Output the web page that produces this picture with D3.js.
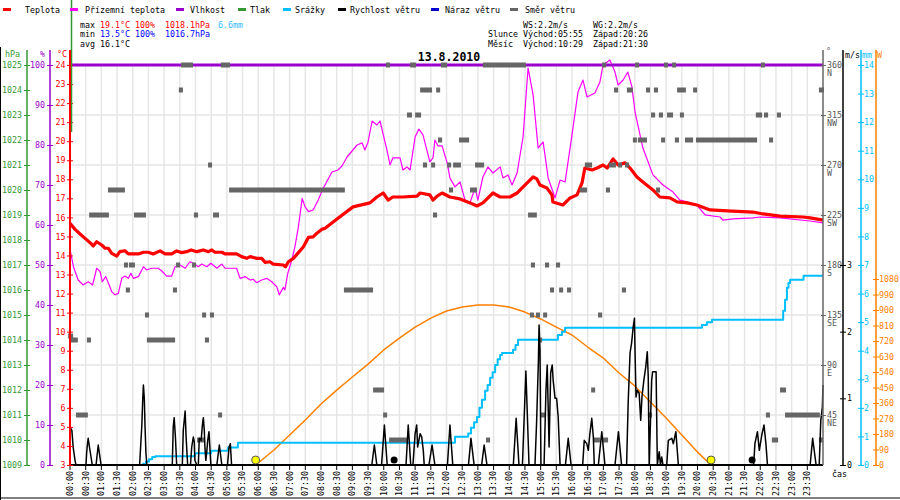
<!DOCTYPE html>
<html>
<head>
<meta charset="utf-8">
<script src="https://cdn.jsdelivr.net/npm/d3@7"></script>
<style>
body { margin: 0; background: #fff; }
svg text { font-family: "DejaVu Sans Mono", monospace; font-size: 8.3px; }
</style>
</head>
<body>
<svg id="chart" width="900" height="500"></svg>
<script>
// time of day in hours
var tempT = [0, 0.16, 0.32, 0.48, 0.64, 0.74, 0.85, 1.01, 1.12, 1.22, 1.33, 1.49, 1.59, 1.75, 1.86, 2.18, 2.34, 2.50, 2.65, 2.87,
    3.03, 3.24, 3.40, 3.56, 3.72, 3.86, 4.04, 4.25, 4.41, 4.52, 4.62, 4.84, 4.94, 5.31, 5.47, 5.63, 5.74, 5.95, 6.11, 6.22,
    6.37, 6.48, 6.80, 6.87, 6.96, 7.12, 7.28, 7.44, 7.60, 7.75, 7.86, 8.02, 8.13, 8.51, 9.02, 9.56, 9.78, 9.98, 10.14, 10.29,
    10.61, 11.06, 11.16, 11.47, 11.57, 11.70, 11.86, 12.11, 12.43, 12.75, 12.97, 13.16, 13.48, 13.71, 14.02, 14.25, 14.57, 14.76, 14.88, 14.98,
    15.20, 15.36, 15.39, 15.71, 15.94, 16.16, 16.32, 16.41, 16.64, 16.80, 16.99, 17.12, 17.31, 17.47, 17.69, 17.85, 18.07, 18.26, 18.58, 18.80,
    19.12, 19.35, 19.67, 19.98, 20.40, 20.94, 21.77, 22.09, 22.63, 23.36, 23.59, 24];
var tempV = [15.69, 15.37, 15.13, 14.90, 14.67, 14.50, 14.72, 14.55, 14.38, 14.38, 14.11, 13.97, 14.20, 14.25, 14.08, 14.08, 14.17, 14.17, 14.08, 14.24,
    14.08, 14.08, 14.24, 14.15, 14.20, 14.29, 14.20, 14.29, 14.20, 14.29, 14.17, 14.17, 14.08, 14.08, 13.94, 13.85, 13.94, 13.85, 13.85, 13.64,
    13.67, 13.55, 13.50, 13.41, 13.67, 13.85, 14.15, 14.46, 14.95, 14.98, 15.16, 15.37, 15.43, 15.92, 16.55, 16.76, 17.07, 17.28, 16.91, 17.07,
    17.07, 17.12, 17.28, 17.18, 16.91, 17.12, 17.28, 17.07, 16.97, 16.76, 16.60, 16.76, 17.28, 17.07, 17.07, 17.28, 17.81, 18.12, 18.02, 17.70,
    17.54, 17.18, 16.81, 16.65, 17.02, 17.18, 17.81, 18.59, 18.49, 18.59, 18.75, 18.59, 19.07, 18.75, 18.86, 18.59, 18.12, 17.86, 17.44, 17.07,
    17.02, 16.81, 16.76, 16.65, 16.39, 16.34, 16.28, 16.18, 16.07, 16.02, 15.97, 15.86];

var groundT = [0, 0.11, 0.26, 0.42, 0.58, 0.72, 0.85, 0.96, 1.03, 1.14, 1.22, 1.33, 1.43, 1.54, 1.65, 1.75, 1.86, 1.94, 2.02, 2.18,
    2.34, 2.44, 2.60, 2.81, 2.92, 3.08, 3.24, 3.35, 3.51, 3.67, 3.82, 3.93, 4.09, 4.20, 4.36, 4.49, 4.68, 4.84, 4.94, 5.31,
    5.42, 5.58, 5.74, 5.84, 5.95, 6.11, 6.27, 6.43, 6.59, 6.67, 6.80, 6.85, 6.94, 7.07, 7.17, 7.28, 7.40, 7.49, 7.60, 7.75,
    7.91, 8.07, 8.35, 8.54, 8.67, 8.83, 9.15, 9.31, 9.40, 9.50, 9.63, 9.78, 9.88, 10.10, 10.20, 10.29, 10.52, 10.61, 10.74, 10.84,
    11.00, 11.12, 11.25, 11.47, 11.57, 11.63, 11.73, 11.86, 12.02, 12.11, 12.27, 12.43, 12.59, 12.75, 12.91, 13.00, 13.16, 13.32, 13.48, 13.71,
    13.80, 13.96, 14.09, 14.25, 14.44, 14.60, 14.76, 14.92, 15.08, 15.24, 15.46, 15.62, 15.78, 16.00, 16.19, 16.35, 16.48, 16.73, 16.89, 16.99,
    17.21, 17.37, 17.47, 17.63, 17.78, 17.91, 18.01, 18.26, 18.58, 18.90, 19.22, 19.44, 19.67, 19.98, 20.24, 20.72, 20.81, 21.13, 21.77, 21.99,
    22.63, 23.59, 24];
var groundV = [14.32, 13.41, 12.71, 12.45, 12.62, 12.45, 13.33, 13.15, 12.62, 12.89, 12.57, 12.10, 11.93, 12.01, 12.80, 12.92, 12.80, 13.06, 12.80, 12.89,
    13.41, 13.24, 13.33, 13.33, 13.20, 12.92, 12.92, 13.41, 13.50, 13.33, 13.67, 13.59, 13.41, 13.55, 13.41, 13.59, 13.33, 13.55, 13.33, 13.33,
    12.80, 12.89, 12.71, 12.75, 12.57, 12.71, 12.80, 12.62, 12.36, 11.93, 12.33, 12.19, 13.06, 13.76, 14.46, 15.51, 17.00, 16.56, 16.30, 16.39,
    16.91, 17.53, 18.38, 18.49, 18.70, 19.17, 19.80, 19.91, 19.54, 19.96, 21.06, 20.85, 21.06, 19.54, 18.75, 19.12, 19.12, 18.49, 18.65, 18.49,
    20.22, 20.64, 20.33, 18.91, 19.12, 20.06, 19.75, 19.75, 18.86, 18.07, 17.60, 17.86, 16.91, 16.76, 17.54, 16.91, 18.12, 18.65, 18.33, 18.65,
    18.07, 18.23, 17.70, 18.33, 20.22, 23.84, 22.43, 19.64, 19.96, 18.07, 17.02, 17.96, 17.86, 20.33, 22.58, 23.21, 22.32, 22.53, 23.11, 24.00,
    24.26, 23.63, 22.95, 23.21, 23.63, 22.85, 21.53, 19.64, 18.23, 17.70, 17.33, 16.91, 16.81, 16.65, 16.13, 16.02, 15.86, 15.92, 15.97, 16.02,
    15.97, 15.81, 15.71];

var humT = [0, 24];
var humV = [100, 100];

// cumulative rain, mm
var rainT = [0, 2.33, 2.42, 2.52, 2.62, 2.72, 3.98, 4.50, 5.04, 5.35, 12.27, 12.69, 12.78, 12.88, 12.97, 13.05, 13.13, 13.23, 13.31, 13.39,
    13.47, 13.55, 13.63, 13.71, 13.77, 14.12, 14.20, 14.28, 15.55, 15.68, 15.78, 20.14, 20.30, 20.46, 22.73, 22.79, 22.85, 22.90, 22.95, 23.38, 24];
var rainV = [0, 0.04, 0.12, 0.20, 0.28, 0.31, 0.41, 0.50, 0.61, 0.78, 0.99, 1.10, 1.30, 1.50, 1.68, 2.00, 2.28, 2.60, 2.80, 3.05,
    3.25, 3.50, 3.70, 3.85, 3.92, 4.03, 4.20, 4.38, 4.55, 4.66, 4.80, 4.90, 5.00, 5.08, 5.40, 5.78, 6.20, 6.37, 6.48, 6.62, 6.62];

// wind speed, m/s
var windT = [0, 0.06, 0.10, 0.16, 0.19, 0.51, 0.53, 0.56, 0.58, 0.62, 0.66, 0.71, 0.83, 0.90, 0.99,
    2.22, 2.24, 2.29, 2.32, 2.34, 2.37, 2.39, 2.42, 2.45, 3.26, 3.29, 3.32, 3.36, 3.40, 3.58, 3.61, 3.67, 3.70, 3.75,
    3.84, 3.88, 3.93, 3.96, 3.98, 4.04, 4.09, 4.12, 4.18, 4.22, 4.25, 4.28, 4.30, 4.33, 4.36, 4.39, 4.43, 4.46, 4.49,
    4.68, 4.76, 4.84, 5.02, 5.07, 5.11, 5.15, 9.62, 9.70, 9.78, 9.93, 10.02, 10.11, 10.71, 10.78, 10.86,
    10.93, 11.00, 11.05, 11.08, 11.16, 11.21, 11.26, 11.29, 11.44, 11.54, 11.63, 12.03, 12.11, 12.20, 12.70, 12.78, 12.88,
    13.12, 13.20, 13.29, 14.13, 14.22, 14.31, 14.42, 14.53, 14.63, 14.82, 14.87, 14.93, 14.95, 14.98, 15.01,
    15.11, 15.17, 15.21, 15.27, 15.32, 15.37, 15.40, 15.46, 15.51, 15.56, 15.62, 15.79, 15.88, 15.97,
    16.34, 16.39, 16.47, 16.52, 16.57, 16.63, 16.68, 16.71, 16.84, 16.95, 17.05, 17.37, 17.48, 17.58,
    17.74, 17.79, 17.85, 17.90, 17.95, 17.99, 18.01, 18.04, 18.08, 18.14, 18.19, 18.23, 18.29, 18.35, 18.40, 18.43, 18.46,
    18.54, 18.57, 18.68, 18.72, 18.78, 18.82, 18.86, 18.90, 19.02, 19.07, 19.18, 19.23, 19.31, 19.39,
    21.79, 21.83, 21.91, 21.97, 22.05, 22.12, 22.18, 22.23, 23.59, 23.67, 23.78, 23.88, 23.93, 23.98, 24];
var windV = [0.57, 0.52, 0.27, 0.07, 0, 0, 0.18, 0.33, 0.40, 0.27, 0.15, 0, 0, 0.30, 0,
    0, 0.18, 0.60, 1.00, 1.20, 0.98, 0.60, 0.18, 0, 0, 0.57, 0.71, 0.42, 0, 0, 0.52, 0.81, 0.42, 0,
    0, 0.27, 0.42, 0.35, 0.07, 0, 0, 0.40, 0.37, 0.60, 0.71, 0.52, 0.27, 0.07, 0.20, 0.37, 0.50, 0.25, 0,
    0, 0.30, 0, 0, 0.27, 0.32, 0, 0, 0.30, 0, 0, 0.60, 0, 0, 0.60, 0,
    0, 0.47, 0.60, 0.27, 0.47, 0.42, 0.22, 0, 0, 0.30, 0, 0, 0.60, 0, 0, 0.40, 0,
    0, 0.30, 0, 0, 0.70, 0, 0, 1.41, 0, 0, 0.62, 1.57, 2.10, 1.72, 0,
    0, 1.12, 1.50, 0.27, 1.38, 1.50, 1.27, 1.00, 1.00, 0.72, 0, 0, 0.40, 0,
    0, 0.37, 0.32, 0.22, 0.47, 0.70, 0.42, 0, 0, 0.50, 0, 0, 0.50, 0,
    0, 0.93, 1.68, 1.83, 2.07, 2.20, 1.68, 1.02, 1.12, 1.08, 0.67, 1.02, 1.27, 1.47, 1.70, 1.32, 0,
    1.27, 1.40, 1.40, 0, 0.20, 0, 0.12, 0, 0, 0.37, 0.40, 0.32, 0.50, 0,
    0, 0.32, 0.50, 0.22, 0.45, 0.60, 0.32, 0, 0, 0.40, 0, 0, 0.67, 0.87, 1.20];

// wind direction runs: from, to (hours), degrees
var dirFrom = [-0.06, 0.03, 0.19, 0.54, 0.61, 1.21, 1.72, 1.88, 1.78, 2.04, 2.39, 2.45, 3.28, 3.38, 3.47, 3.54, 3.89, 3.95, 4.05, 4.21,
    4.30, 4.40, 4.46, 4.56, 4.72, 4.81, 5.07, 8.73, 9.66, 9.98, 10.07, 10.17, 10.74, 10.84, 11.00, 11.16, 11.25, 11.51, 11.57, 11.67,
    11.73, 11.82, 12.02, 12.08, 12.21, 12.40, 12.75, 12.91, 13.16, 13.26, 14.60, 14.66, 14.69, 14.85, 14.92, 15.01, 15.08, 15.14, 15.30, 15.49,
    15.59, 15.84, 16.25, 16.41, 16.61, 16.67, 16.83, 16.96, 16.99, 17.08, 17.18, 17.34, 17.47, 17.59, 17.69, 17.75, 17.94, 18.01, 18.10, 18.36,
    18.42, 18.52, 18.61, 18.68, 18.77, 18.84, 18.93, 19.03, 19.19, 19.28, 19.35, 19.44, 19.60, 19.86, 19.95, 21.86, 22.02, 22.12, 22.18, 22.28,
    22.37, 22.53, 22.63, 22.79, 23.87, 23.87];
var dirTo = [0.10, 0.25, 0.57, 0.67, 1.24, 1.75, 1.85, 2.07, 1.91, 2.42, 2.49, 3.35, 3.41, 3.51, 3.60, 3.92, 3.98, 4.08, 4.27, 4.33,
    4.43, 4.49, 4.59, 4.75, 4.84, 5.10, 8.76, 9.66, 10.01, 10.10, 10.17, 10.74, 10.90, 11.03, 11.19, 11.54, 11.38, 11.63, 11.70, 11.79,
    11.86, 12.02, 12.11, 12.21, 12.46, 12.72, 12.97, 13.20, 14.53, 13.39, 14.88, 14.76, 14.82, 14.98, 15.04, 15.14, 15.20, 15.27, 15.39, 15.62,
    15.71, 15.97, 16.48, 16.64, 16.73, 16.89, 16.96, 17.05, 17.15, 17.21, 17.40, 17.47, 17.59, 17.72, 17.82, 17.94, 18.04, 18.10, 18.39, 18.45,
    18.55, 18.65, 18.74, 18.80, 18.90, 18.96, 19.03, 19.22, 19.28, 19.41, 19.63, 19.54, 19.86, 19.98, 21.90, 22.06, 22.12, 22.25, 22.31, 22.41,
    22.57, 22.66, 22.82, 23.90, 24.00, 24.03];
var dirDeg = [116, 112.5, 45, 112.5, 225, 247.5, 180, 180, 157.5, 225, 135, 112.5, 157.5, 180, 337.5, 360, 180, 225, 22.5, 135,
    112.5, 270, 135, 225, 45, 360, 247.5, 157.5, 67.5, 45, 360, 22.5, 315, 360, 315, 337.5, 270, 270, 225, 337.5,
    292.5, 360, 270, 247.5, 270, 292.5, 247.5, 270, 360, 22.5, 225, 135, 180, 135, 112.5, 45, 135, 180, 157.5, 180,
    157.5, 157.5, 247.5, 270, 67.5, 22.5, 135, 360, 22.5, 247.5, 270, 337.5, 270, 157.5, 270, 337.5, 292.5, 360, 292.5, 337.5,
    45, 315, 337.5, 247.5, 315, 292.5, 360, 315, 360, 292.5, 337.5, 315, 292.5, 337.5, 292.5, 315, 360, 315, 45, 292.5,
    22.5, 315, 67.5, 45, 22.5, 337.5];

// theoretical sun radiation, W
var sunT = [5.917, 6.5, 7, 7.5, 8, 8.5, 9, 9.5, 10, 10.5, 11, 11.5, 12, 12.5, 13, 13.5, 14, 14.5, 15, 15.5,
    16, 16.5, 17, 17.5, 18, 18.5, 19, 19.5, 20, 20.433];
var sunW = [0, 87, 174, 261, 354, 435, 511, 586, 668, 737, 801, 853, 894, 917, 929, 929, 917, 888, 848, 801,
    755, 685, 621, 534, 459, 366, 273, 174, 75, 0];

var sunEvents = [5.917, 20.433];
var moonEvents = [10.33, 21.74];

var timeLabels = ["00:00", "00:30", "01:00", "01:30", "02:00", "02:30", "03:00", "03:30", "04:00", "04:30", "05:00", "05:30",
    "06:00", "06:30", "07:00", "07:30", "08:00", "08:30", "09:00", "09:30", "10:00", "10:30", "11:00", "11:30",
    "12:00", "12:30", "13:00", "13:30", "14:00", "14:30", "15:00", "15:30", "16:00", "16:30", "17:00", "17:30",
    "18:00", "18:30", "19:00", "19:30", "20:00", "20:30", "21:00", "21:30", "22:00", "22:30", "23:00", "23:30"];
var tempTicks = d3.range(3, 25);
var humTicks = [0, 10, 20, 30, 40, 50, 60, 70, 80, 90, 100];
var presTicks = d3.range(1009, 1026);
var dirTicks = [45, 90, 135, 180, 225, 270, 315, 360];
var dirNames = ["NE", "E", "SE", "S", "SW", "W", "NW", "N"];
var windTicks = [0, 1, 2, 3];
var rainTicks = d3.range(0, 15);
var sunTicks = [0, 90, 180, 270, 360, 450, 540, 630, 720, 810, 900, 990, 1080];

var legendNames = ["Teplota", "Přízemní teplota", "Vlhkost", "Tlak", "Srážky", "Rychlost větru", "Náraz větru", "Směr větru"];
var legendColors = ["#ff0000", "#ff00ff", "#9900cc", "#339933", "#00bfff", "#000000", "#0000cc", "#666666"];

var svg = d3.select("#chart");
var plotL = 70, plotR = 823, plotT = 65, plotB = 465;

var x = d3.scaleLinear().domain([0, 24]).range([plotL, plotR]);
var yTemp = d3.scaleLinear().domain([3, 24]).range([plotB, plotT]);
var yHum = d3.scaleLinear().domain([0, 100]).range([plotB, plotT]);
var yPres = d3.scaleLinear().domain([1009, 1025]).range([plotB, plotT]);
var yDir = d3.scaleLinear().domain([0, 360]).range([plotB, plotT]);
var yWind = d3.scaleLinear().domain([0, 6]).range([plotB, plotT]);
var yRain = d3.scaleLinear().domain([0, 14]).range([plotB, plotT]);
var ySun = d3.scaleLinear().domain([0, 1080]).range([plotB, 279]);

function hours(s) {
    var p = s.split(":");
    return +p[0] + p[1] / 60;
}

// grid
var grid = svg.append("g").attr("stroke", "#e6e6e6").attr("stroke-width", 1.5);
grid.selectAll(".vg").data(timeLabels).enter().append("line")
    .attr("x1", function(d) { return x(hours(d)); })
    .attr("x2", function(d) { return x(hours(d)); })
    .attr("y1", plotT).attr("y2", plotB);
grid.selectAll(".hg").data(dirTicks).enter().append("line")
    .attr("x1", plotL).attr("x2", plotR)
    .attr("y1", function(d) { return yDir(d); })
    .attr("y2", function(d) { return yDir(d); });

function series(ts, vs, yScale, color, width, curve) {
    var l = d3.line()
        .x(function(d) { return x(d[0]); })
        .y(function(d) { return yScale(d[1]); })
        .curve(curve || d3.curveLinear);
    svg.append("path")
        .attr("d", l(d3.zip(ts, vs)))
        .attr("fill", "none")
        .attr("stroke", color)
        .attr("stroke-width", width)
        .attr("stroke-linejoin", "round");
}

series(sunT, sunW, ySun, "#ff8000", 1.5);
series(rainT, rainV, yRain, "#00bfff", 2, d3.curveStepAfter);
series(groundT, groundV, yTemp, "#ff00ff", 1.2);
series(tempT, tempV, yTemp, "#ff0000", 3.2);
series(humT, humV, yHum, "#9900cc", 3);

// wind direction squares
svg.append("g").selectAll("rect")
    .data(dirDeg).enter().append("rect")
    .attr("x", function(d, i) { return x(dirFrom[i]); })
    .attr("width", function(d, i) { return Math.max(4, x(dirTo[i]) - x(dirFrom[i])); })
    .attr("y", function(d) { return yDir(d) - 2.5; })
    .attr("height", 5)
    .attr("fill", "#666666");

// baseline + wind speed
svg.append("line").attr("x1", plotL).attr("x2", plotR).attr("y1", plotB).attr("y2", plotB)
    .attr("stroke", "#000").attr("stroke-width", 2);
series(windT, windV, yWind, "#000000", 1.5);

// sun / moon markers
svg.selectAll(".sun").data(sunEvents).enter().append("circle")
    .attr("cx", function(d) { return x(d); })
    .attr("cy", plotB - 5)
    .attr("r", 4)
    .attr("fill", "#ffff00")
    .attr("stroke", "#555")
    .attr("stroke-width", 1);
svg.selectAll(".moon").data(moonEvents).enter().append("circle")
    .attr("cx", function(d) { return x(d); })
    .attr("cy", plotB - 5)
    .attr("r", 3.5)
    .attr("fill", "#000");

// x axis labels
svg.selectAll(".xt").data(timeLabels).enter().append("line")
    .attr("x1", function(d) { return x(hours(d)); })
    .attr("x2", function(d) { return x(hours(d)); })
    .attr("y1", plotB + 1).attr("y2", plotB + 5)
    .attr("stroke", "#000");
svg.selectAll(".xl").data(timeLabels).enter().append("text")
    .attr("transform", function(d) { return "translate(" + x(hours(d)) + ",471) rotate(-90)"; })
    .attr("dy", "0.35em")
    .attr("text-anchor", "end")
    .attr("fill", "#000")
    .text(function(d) { return d; });
svg.append("text").attr("x", 832).attr("y", 477).text("čas");

// vertical axes
function vAxis(xPos, axis, color) {
    var g = svg.append("g").attr("transform", "translate(" + xPos + ",0)").call(axis);
    g.select(".domain").remove();
    g.selectAll(".tick line").attr("stroke", color);
    g.selectAll(".tick text").attr("fill", color);
    svg.append("line").attr("x1", xPos).attr("x2", xPos).attr("y1", 50).attr("y2", plotB)
        .attr("stroke", color).attr("stroke-width", 1.5);
    return g;
}

var fmt = d3.format("d");
var gPres = vAxis(27, d3.axisLeft(yPres).tickValues(presTicks).tickFormat(fmt).tickSize(3).tickPadding(2), "#339933");
gPres.selectAll(".tick line").attr("x1", 3);
var gHum = vAxis(50, d3.axisLeft(yHum).tickValues(humTicks).tickFormat(fmt).tickSize(3).tickPadding(2), "#9900cc");
gHum.selectAll(".tick line").attr("x1", 3);
var gTemp = vAxis(70, d3.axisLeft(yTemp).tickValues(tempTicks).tickFormat(fmt).tickSize(3).tickPadding(1.5), "#ff0000");
gTemp.selectAll(".tick line").attr("x1", 3);

var gDir = vAxis(823, d3.axisRight(yDir).tickValues(dirTicks).tickFormat(fmt).tickSize(3).tickPadding(1), "#666666");
gDir.selectAll(".tick line").attr("x1", -2);
gDir.selectAll(".tick text").attr("fill", "#555");
gDir.selectAll(".tick").append("text")
    .attr("x", 4).attr("dy", "1.32em").attr("fill", "#555")
    .text(function(d, i) { return dirNames[i]; });
var gWind = vAxis(843, d3.axisRight(yWind).tickValues(windTicks).tickFormat(fmt).tickSize(3).tickPadding(1), "#000000");
gWind.selectAll(".tick line").attr("x1", -3);
var gRain = vAxis(861, d3.axisRight(yRain).tickValues(rainTicks).tickFormat(fmt).tickSize(3).tickPadding(0), "#00bfff");
gRain.selectAll(".tick line").attr("x1", -3);
var gSun = vAxis(876, d3.axisRight(ySun).tickValues(sunTicks).tickFormat(fmt).tickSize(3).tickPadding(0), "#ff8000");
gSun.selectAll(".tick line").attr("x1", -3);

// red axis on top, green stub
svg.append("line").attr("x1", 71.5).attr("x2", 71.5).attr("y1", 0).attr("y2", 132)
    .attr("stroke", "#339933").attr("stroke-width", 1.5);
svg.append("line").attr("x1", 70).attr("x2", 70).attr("y1", 50).attr("y2", plotB)
    .attr("stroke", "#ff0000").attr("stroke-width", 2);

// plain texts
function txt(xp, yp, s, color) {
    return svg.append("text").attr("x", xp).attr("y", yp).attr("fill", color || "#000").text(s);
}
txt(5, 57, "hPa", "#339933");
txt(40, 57, "%", "#9900cc");
txt(57, 57, "°C", "#ff0000");
txt(826, 54, "°", "#555");
txt(845, 58, "m/s", "#000");
txt(862, 58, "mm", "#00bfff");
txt(877, 58, "W", "#ff8000");

// legend
var legendX = [3, 70, 176, 238, 283, 338, 431, 510];
var legendTextX = [25, 85, 190, 250, 295, 350, 445, 525];
legendNames.forEach(function(name, i) {
    svg.append("line").attr("x1", legendX[i]).attr("x2", legendX[i] + 8)
        .attr("y1", 9.5).attr("y2", 9.5)
        .attr("stroke", legendColors[i]).attr("stroke-width", 3);
    txt(legendTextX[i], 12.5, name, "#000");
});

// stats
txt(80, 27.5, "max");
txt(100, 27.5, "19.1°C", "#ff0000");
txt(135, 27.5, "100%", "#ff0000");
txt(165, 27.5, "1018.1hPa", "#ff0000");
txt(218, 27.5, "6.6mm", "#33bbff");
txt(80, 37, "min");
txt(100, 37, "13.5°C", "#0000ff");
txt(135, 37, "100%", "#0000ff");
txt(165, 37, "1016.7hPa", "#0000ff");
txt(80, 46.5, "avg");
txt(100, 46.5, "16.1°C");

txt(523, 27.5, "WS:2.2m/s");
txt(593, 27.5, "WG:2.2m/s");
txt(488, 37, "Slunce");
txt(523, 37, "Východ:05:55");
txt(593, 37, "Západ:20:26");
txt(488, 46.5, "Měsíc");
txt(523, 46.5, "Východ:10:29");
txt(593, 46.5, "Západ:21:30");

svg.append("text").attr("x", 449).attr("y", 61).attr("text-anchor", "middle")
    .style("font-size", "11.5px").style("font-weight", "bold").text("13.8.2010");

// frame
svg.append("line").attr("x1", 0.5).attr("x2", 0.5).attr("y1", 47).attr("y2", 500).attr("stroke", "#000");
svg.append("line").attr("x1", 0).attr("x2", 900).attr("y1", 498).attr("y2", 498).attr("stroke", "#000");
</script>
</body>
</html>
